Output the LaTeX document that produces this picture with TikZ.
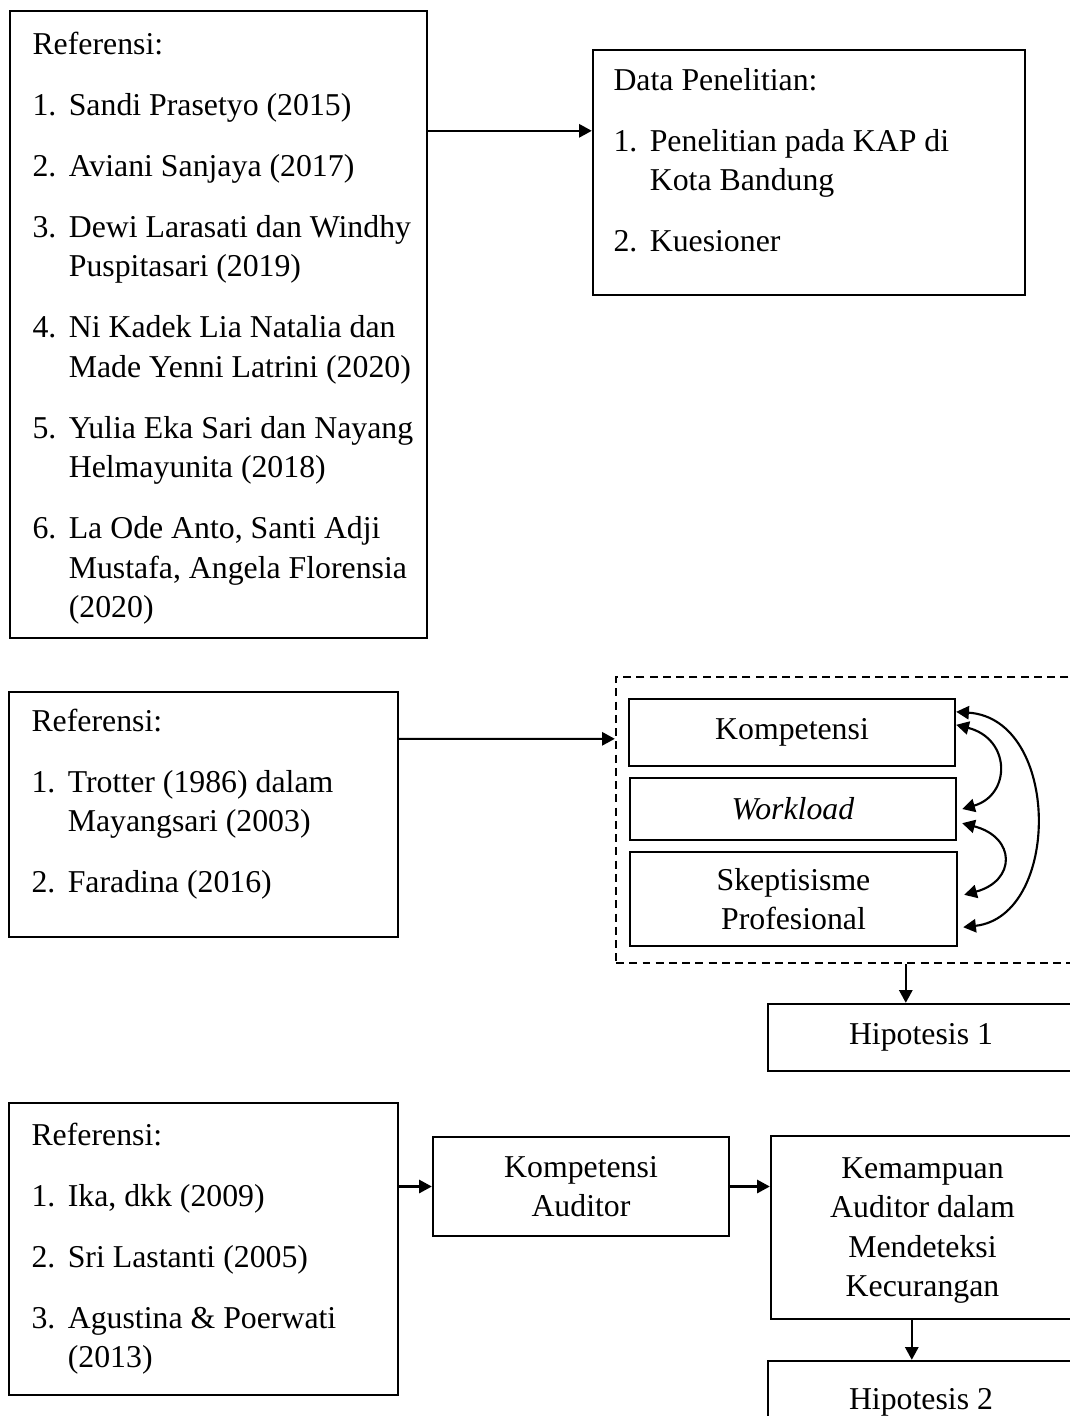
\documentclass[tikz,border=0pt]{standalone}
\usepackage{fontspec}
\setmainfont{Liberation Serif}
\usetikzlibrary{arrows.meta,calc,fit}
\newcommand{\nr}[1]{\makebox[13.7pt][l]{#1}}
\newcommand{\hang}{\hspace*{13.7pt}}
\newcommand{\gap}{\\[8.1pt]}
\newcommand{\tp}{\rule{0pt}{9pt}}
\begin{document}
\begin{tikzpicture}[x=0.3774pt,y=-0.3774pt,
	font=\fontsize{12}{14.9}\selectfont,
	box/.style={draw,line width=0.9pt,inner sep=0pt},
	ctxt/.style={align=center,inner sep=0pt},
	txt/.style={anchor=north west,align=left,inner sep=0pt,yshift=9pt},
	arr/.style={line width=0.8pt,-{Triangle[length=4.8pt,width=5pt]}},
	arrs/.style={line width=0.8pt,{Triangle[length=4.8pt,width=5pt]}-{Triangle[length=4.8pt,width=5pt]}}]
\path[use as bounding box,clip] (0,0) rectangle (1070,1416);
\node[box,fit={(10,11) (427,638)}] (ref1) {};
\node[txt] (ref1t) at (32,54) {\tp Referensi:\gap
	\nr{1.}Sandi Prasetyo (2015)\gap
	\nr{2.}Aviani Sanjaya (2017)\gap
	\nr{3.}Dewi Larasati dan Windhy\\
	\hang Puspitasari (2019)\gap
	\nr{4.}Ni Kadek Lia Natalia dan\\
	\hang Made Yenni Latrini (2020)\gap
	\nr{5.}Yulia Eka Sari dan Nayang\\
	\hang Helmayunita (2018)\gap
	\nr{6.}La Ode Anto, Santi Adji\\
	\hang Mustafa, Angela Florensia\\
	\hang (2020)};
\node[box,fit={(593,50) (1025,295)}] (dat) {};
\node[txt] (datt) at (613,90) {\tp Data Penelitian:\gap
	\nr{1.}Penelitian pada KAP di\\
	\hang Kota Bandung\gap
	\nr{2.}Kuesioner};
\node[box,fit={(9,692) (398,937)}] (ref2) {};
\node[txt] (ref2t) at (31,731) {\tp Referensi:\gap
	\nr{1.}Trotter (1986) dalam\\
	\hang Mayangsari (2003)\gap
	\nr{2.}Faradina (2016)};
\node[box,dash pattern=on 3pt off 2pt,fit={(616,677) (1090,963)}] (grp) {};
\node[box,fit={(629,699) (955,766)}] (komp) {};
\node[ctxt] (kompt) at (komp) {Kompetensi};
\node[box,fit={(630,778) (956,840)}] (work) {};
\node[ctxt] (workt) at (work) {\textit{Workload}};
\node[box,fit={(630,852) (957,946)}] (skep) {};
\node[ctxt] (skept) at (skep) {Skeptisisme\\Profesional};
\node[box,fit={(768,1004) (1074,1071)}] (hip1) {};
\node[ctxt] (hip1t) at (hip1) {Hipotesis 1};
\node[box,fit={(9,1103) (398,1395)}] (ref3) {};
\node[txt] (ref3t) at (31,1145) {\tp Referensi:\gap
	\nr{1.}Ika, dkk (2009)\gap
	\nr{2.}Sri Lastanti (2005)\gap
	\nr{3.}Agustina \& Poerwati\\
	\hang (2013)};
\node[box,fit={(433,1137) (729,1236)}] (ka) {};
\node[ctxt] (kat) at (ka) {Kompetensi\\Auditor};
\node[box,fit={(771,1136) (1074,1319)}] (kem) {};
\node[ctxt] (kemt) at ($(kem)+(0,3)$) {Kemampuan\\Auditor dalam\\Mendeteksi\\Kecurangan};
\node[box,fit={(768,1361) (1074,1444)}] (hip2) {};
\node[ctxt] (hip2t) at (hip2) {Hipotesis 2};
\draw[arr] ($(ref1.north east)+(0,121)$) -- ($(dat.north west)+(0,82)$);
\draw[arr] ($(ref2.north east)+(0,48)$) -- ($(grp.north west)+(0,63)$);
\draw[arrs] ($(komp.north east)+(0,14)$) .. controls +(105,7) and +(98,-11) .. ($(skep.south east)+(5,-20)$);
\draw[arrs] ($(komp.north east)+(0,27)$) .. controls +(55,14) and +(49,-14) .. ($(work.east)+(5,0)$);
\draw[arrs] ($(work.south east)+(5,-18)$) .. controls +(54,14) and +(52,-14) .. ($(skep.north east)+(6,44)$);
\coordinate (h1) at ($(hip1.north west)+(139,0)$);
\draw[arr] (h1 |- grp.south) -- (h1);
\draw[arr] (ref3.east |- ka.west) -- (ka.west);
\draw[arr] (ka.east) -- (ka.east -| kem.west);
\coordinate (h2) at ($(hip2.north west)+(145,0)$);
\draw[arr] (h2 |- kem.south) -- (h2);
\end{tikzpicture}
\end{document}
